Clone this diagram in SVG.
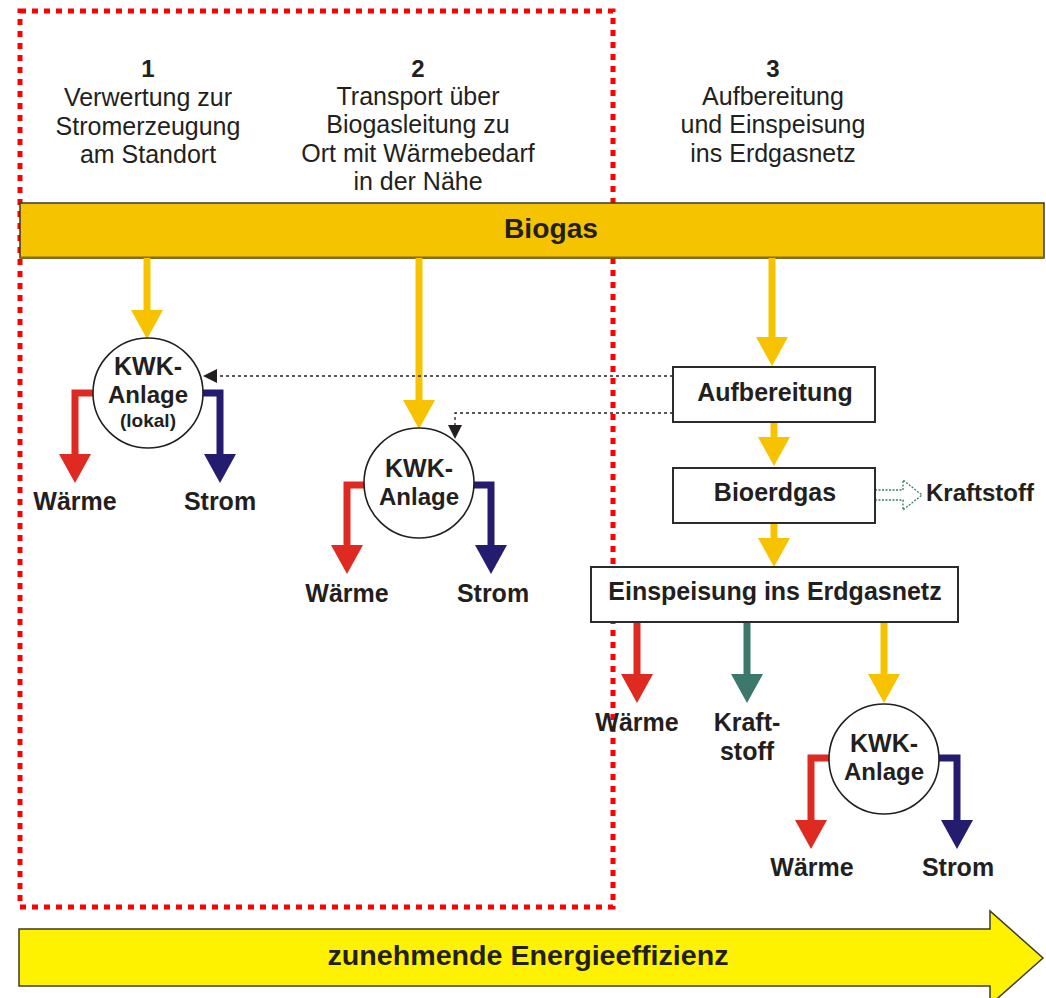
<svg xmlns="http://www.w3.org/2000/svg" xmlns:xlink="http://www.w3.org/1999/xlink" width="1046" height="998" viewBox="0 0 1046 998">
<style>
text{font-family:"Liberation Sans",Arial,sans-serif;fill:#231F20;text-anchor:middle}
.hd{font-size:25px}
.b{font-weight:bold;font-size:25px}
.sm{font-weight:bold;font-size:19px}
.box{fill:#fff;stroke:#2b2b2b;stroke-width:2}
.circ{fill:#fff;stroke:#231F20;stroke-width:1.6}
.sh{fill:none;stroke-width:7;stroke-linejoin:miter}
.y{stroke:#F7C300}.yf{fill:#F7C300}
.r{stroke:#DE2A20}.rf{fill:#DE2A20}
.bl{stroke:#241C6E}.blf{fill:#241C6E}
.t{stroke:#3C786C}.tf{fill:#3C786C}
.dot{fill:none;stroke:#231F20;stroke-width:1.3;stroke-dasharray:3 3}
</style>
<defs>
<path id="head" d="M-16,0 L16,0 L0,29 Z"/>
</defs>

<!-- red dotted frame -->
<rect id="frame" x="20" y="11" width="593" height="896" fill="none" stroke="#FF0000" stroke-width="5" stroke-dasharray="6 6"/>

<!-- column headers -->
<g id="header1">
<text class="b" x="148" y="77" style="font-size:24px">1</text>
<text class="hd" x="148" y="106">Verwertung zur</text>
<text class="hd" x="148" y="135">Stromerzeugung</text>
<text class="hd" x="148" y="163">am Standort</text>
</g>
<g id="header2">
<text class="b" x="418" y="77" style="font-size:24px">2</text>
<text class="hd" x="418" y="105">Transport über</text>
<text class="hd" x="418" y="133">Biogasleitung zu</text>
<text class="hd" x="418" y="162">Ort mit Wärmebedarf</text>
<text class="hd" x="418" y="190">in der Nähe</text>
</g>
<g id="header3">
<text class="b" x="773" y="77" style="font-size:24px">3</text>
<text class="hd" x="773" y="105">Aufbereitung</text>
<text class="hd" x="773" y="133">und Einspeisung</text>
<text class="hd" x="773" y="162">ins Erdgasnetz</text>
</g>

<!-- Biogas bar -->
<g id="biogas">
<rect x="20" y="203" width="1024" height="55" fill="#F6C300" stroke="#3a3a2a" stroke-width="1.5"/>
<line x1="20" y1="257.5" x2="1044" y2="257.5" stroke="#8a6d00" stroke-width="2"/>
<text x="551" y="238" style="font-weight:bold;font-size:27px" textLength="94" lengthAdjust="spacingAndGlyphs">Biogas</text>
</g>

<!-- connectors -->
<g id="connectors">
<!-- yellow from Biogas -->
<path class="sh y" d="M147,258 V311"/><use xlink:href="#head" class="yf" x="147" y="310"/>
<path class="sh y" d="M419,258 V401"/><use xlink:href="#head" class="yf" x="419" y="400"/>
<path class="sh y" d="M772,258 V338"/><use xlink:href="#head" class="yf" x="772" y="337"/>
<path class="sh y" d="M774,422 V438"/><use xlink:href="#head" class="yf" x="774" y="437"/>
<path class="sh y" d="M774,523 V539"/><use xlink:href="#head" class="yf" x="774" y="538"/>
<!-- KWK 1 outputs -->
<path class="sh r" d="M93,393 H75 V455"/><use xlink:href="#head" class="rf" x="75" y="454"/>
<path class="sh bl" d="M202,393 H220 V455"/><use xlink:href="#head" class="blf" x="220" y="454"/>
<!-- KWK 2 outputs -->
<path class="sh r" d="M364,485 H347 V546"/><use xlink:href="#head" class="rf" x="347" y="545"/>
<path class="sh bl" d="M473,485 H491 V546"/><use xlink:href="#head" class="blf" x="491" y="545"/>
<!-- Einspeisung outputs -->
<path class="sh r" d="M637,622 V675"/><use xlink:href="#head" class="rf" x="637" y="674"/>
<path class="sh t" d="M747,622 V675"/><use xlink:href="#head" class="tf" x="747" y="674"/>
<path class="sh y" d="M884,622 V675"/><use xlink:href="#head" class="yf" x="884" y="674"/>
<!-- KWK 3 outputs -->
<path class="sh r" d="M829,758 H811 V821"/><use xlink:href="#head" class="rf" x="811" y="820"/>
<path class="sh bl" d="M939,758 H957 V821"/><use xlink:href="#head" class="blf" x="957" y="820"/>
<!-- dotted feedback -->
<path class="dot" d="M673,376 H217"/>
<polygon points="203,376 217,369 217,383" fill="#231F20"/>
<path class="dot" d="M673,413 H455 V425"/>
<polygon points="448,425 462,425 455,439" fill="#231F20"/>
<!-- Kraftstoff hollow arrow -->
<polygon points="875,490 903,490 903,480 922,495 903,510 903,500 875,500" fill="#fff" stroke="#3C786C" stroke-width="1.3" stroke-dasharray="2 1.5"/>
</g>

<!-- KWK 1 -->
<g id="kwk1">
<circle class="circ" cx="148" cy="393" r="55"/>
<text class="b" x="148" y="375">KWK-</text>
<text class="b" x="148" y="403" style="font-size:24px">Anlage</text>
<text class="sm" x="148" y="427">(lokal)</text>
</g>
<g id="waerme1"><text class="b" x="75" y="510">Wärme</text></g>
<g id="strom1"><text class="b" x="220" y="510">Strom</text></g>

<!-- KWK 2 -->
<g id="kwk2">
<circle class="circ" cx="419" cy="483" r="55"/>
<text class="b" x="419" y="477">KWK-</text>
<text class="b" x="419" y="505" style="font-size:24px">Anlage</text>
</g>
<g id="waerme2"><text class="b" x="347" y="602">Wärme</text></g>
<g id="strom2"><text class="b" x="493" y="602">Strom</text></g>

<!-- Aufbereitung -->
<g id="aufbereitung">
<rect class="box" x="673" y="367" width="202" height="55"/>
<text class="b" x="775" y="401">Aufbereitung</text>
</g>
<!-- Bioerdgas -->
<g id="bioerdgas">
<rect class="box" x="673" y="468" width="202" height="55"/>
<text class="b" x="775" y="501">Bioerdgas</text>
</g>
<g id="kraftstoff1"><text class="b" x="926" y="501" style="text-anchor:start;font-size:24px">Kraftstoff</text></g>

<!-- Einspeisung -->
<g id="einspeisung">
<rect class="box" x="591" y="567" width="367" height="55"/>
<text class="b" x="775" y="600">Einspeisung ins Erdgasnetz</text>
</g>
<g id="waerme3"><text class="b" x="637" y="731">Wärme</text></g>
<g id="kraftstoff2">
<text class="b" x="747" y="731">Kraft-</text>
<text class="b" x="747" y="760">stoff</text>
</g>

<!-- KWK 3 -->
<g id="kwk3">
<circle class="circ" cx="884" cy="759" r="55"/>
<text class="b" x="884" y="752">KWK-</text>
<text class="b" x="884" y="780" style="font-size:24px">Anlage</text>
</g>
<g id="waerme4"><text class="b" x="812" y="876">Wärme</text></g>
<g id="strom4"><text class="b" x="958" y="876">Strom</text></g>

<!-- efficiency arrow -->
<g id="efficiency">
<polygon points="19,929 990,929 990,911 1043,958 990,1005 990,986 19,986" fill="#FFF200" stroke="#3a3a2a" stroke-width="1.5"/>
<text x="528" y="965" style="font-weight:bold;font-size:28px" textLength="401" lengthAdjust="spacingAndGlyphs">zunehmende Energieeffizienz</text>
</g>
</svg>
